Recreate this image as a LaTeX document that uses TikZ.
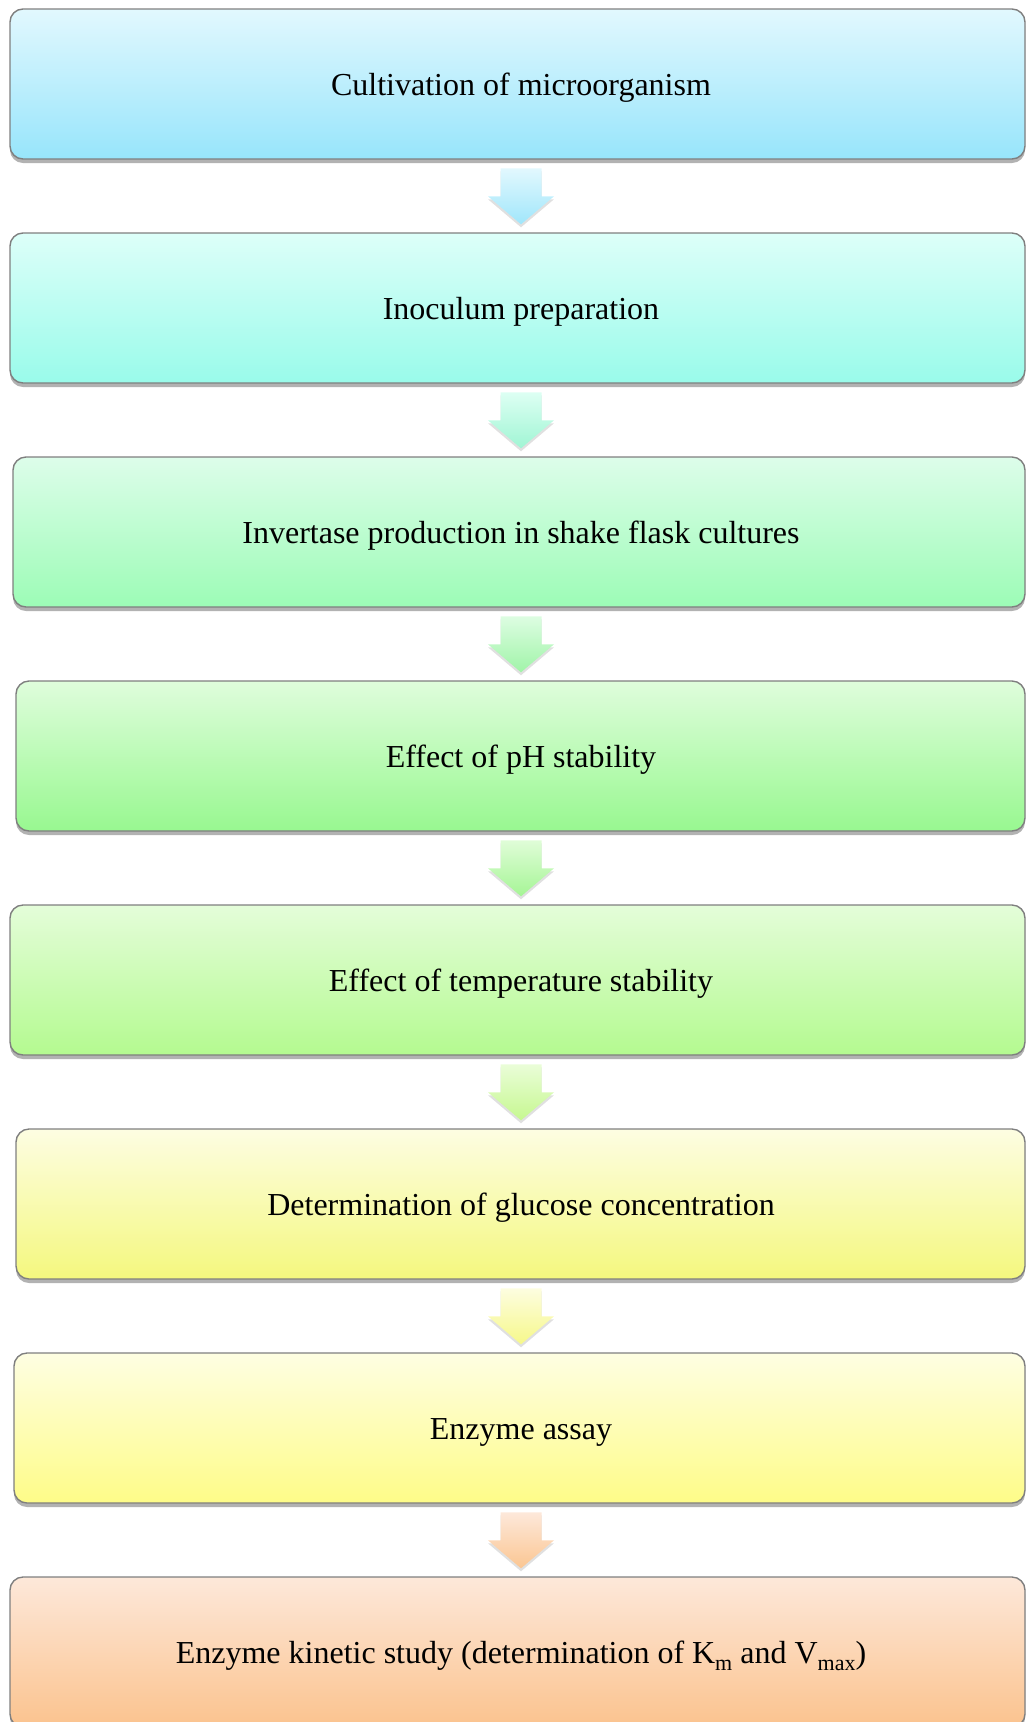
\documentclass[tikz,border=0pt]{standalone}
\usepackage{fontspec}
\setmainfont{Liberation Serif}
\usetikzlibrary{shadows,calc}

\definecolor{boxline}{HTML}{7F7F7F}
\definecolor{b1t}{HTML}{E2F8FE}\definecolor{b1b}{HTML}{97E5FB}
\definecolor{b2t}{HTML}{DDFFF9}\definecolor{b2b}{HTML}{99FBEA}
\definecolor{b3t}{HTML}{DDFDEA}\definecolor{b3b}{HTML}{9CFCB6}
\definecolor{b4t}{HTML}{DFFDDC}\definecolor{b4b}{HTML}{98F890}
\definecolor{b5t}{HTML}{E4FDD9}\definecolor{b5b}{HTML}{B4FA90}
\definecolor{b6t}{HTML}{FDFDE2}\definecolor{b6b}{HTML}{F4F87E}
\definecolor{b7t}{HTML}{FEFEE2}\definecolor{b7b}{HTML}{FEFC88}
\definecolor{b8t}{HTML}{FDE8DA}\definecolor{b8b}{HTML}{FBC38E}
\definecolor{a1t}{HTML}{E2F8FE}\definecolor{a1b}{HTML}{A0E6FB}
\definecolor{a2t}{HTML}{DDFFF3}\definecolor{a2b}{HTML}{A0F5D4}
\definecolor{a3t}{HTML}{DDFDE2}\definecolor{a3b}{HTML}{A0F4A8}
\definecolor{a4t}{HTML}{E0FDD8}\definecolor{a4b}{HTML}{A5F595}
\definecolor{a5t}{HTML}{EAFDD8}\definecolor{a5b}{HTML}{C6F890}
\definecolor{a6t}{HTML}{FDFDE0}\definecolor{a6b}{HTML}{F6F88A}
\definecolor{a7t}{HTML}{FDE8DA}\definecolor{a7b}{HTML}{FBC692}

\tikzset{
  stagebox/.style={draw=boxline, line width=1.4pt, rounded corners=13pt,
    minimum height=150pt, inner sep=0pt,
    drop shadow={shadow xshift=0pt, shadow yshift=-4pt, opacity=0.3, fill=black}},
  lbl/.style={font=\fontsize{32}{38}\selectfont, inner sep=0pt, text=black,
    anchor=base, yshift=-11pt},
  blockarrow/.style={draw=none,
    drop shadow={shadow xshift=0pt, shadow yshift=-3pt, opacity=0.12, fill=black}},
}

\newcommand\lowsub[1]{\raisebox{-7pt}{\fontsize{22}{24}\selectfont #1}}

\newcommand\flowarrow[3]{%
  \path[blockarrow, top color=#2, bottom color=#3, shift={(cx |- #1.north)}]
    (-20.5,64) -- (20.5,64) -- (20.5,36) -- (33,36) -- (0,8) -- (-33,36) -- (-20.5,36) -- cycle;}

\begin{document}
\begin{tikzpicture}[x=1pt,y=1pt]
\useasboundingbox (0,0) rectangle (1026,-1722);
\coordinate (cx) at (521,0);

\node[stagebox, minimum width=1015pt, top color=b1t, bottom color=b1b] (b1) at (517.5,-84) {};
\node[stagebox, minimum width=1015pt, top color=b2t, bottom color=b2b] (b2) at (517.5,-308) {};
\node[stagebox, minimum width=1012pt, top color=b3t, bottom color=b3b] (b3) at (519,-532) {};
\node[stagebox, minimum width=1009pt, top color=b4t, bottom color=b4b] (b4) at (520.5,-756) {};
\node[stagebox, minimum width=1015pt, top color=b5t, bottom color=b5b] (b5) at (517.5,-980) {};
\node[stagebox, minimum width=1009pt, top color=b6t, bottom color=b6b] (b6) at (520.5,-1204) {};
\node[stagebox, minimum width=1011pt, top color=b7t, bottom color=b7b] (b7) at (519.5,-1428) {};
\node[stagebox, minimum width=1015pt, top color=b8t, bottom color=b8b] (b8) at (517.5,-1652) {};

\node[lbl] (t1) at (cx |- b1.center) {Cultivation of microorganism};
\node[lbl] (t2) at (cx |- b2.center) {Inoculum preparation};
\node[lbl] (t3) at (cx |- b3.center) {Invertase production in shake flask cultures};
\node[lbl] (t4) at (cx |- b4.center) {Effect of pH stability};
\node[lbl] (t5) at (cx |- b5.center) {Effect of temperature stability};
\node[lbl] (t6) at (cx |- b6.center) {Determination of glucose concentration};
\node[lbl] (t7) at (cx |- b7.center) {Enzyme assay};
\node[lbl] (t8) at (cx |- b8.center) {Enzyme kinetic study (determination of K\lowsub{m} and V\lowsub{max})};

\flowarrow{b2}{a1t}{a1b}
\flowarrow{b3}{a2t}{a2b}
\flowarrow{b4}{a3t}{a3b}
\flowarrow{b5}{a4t}{a4b}
\flowarrow{b6}{a5t}{a5b}
\flowarrow{b7}{a6t}{a6b}
\flowarrow{b8}{a7t}{a7b}
\end{tikzpicture}
\end{document}
